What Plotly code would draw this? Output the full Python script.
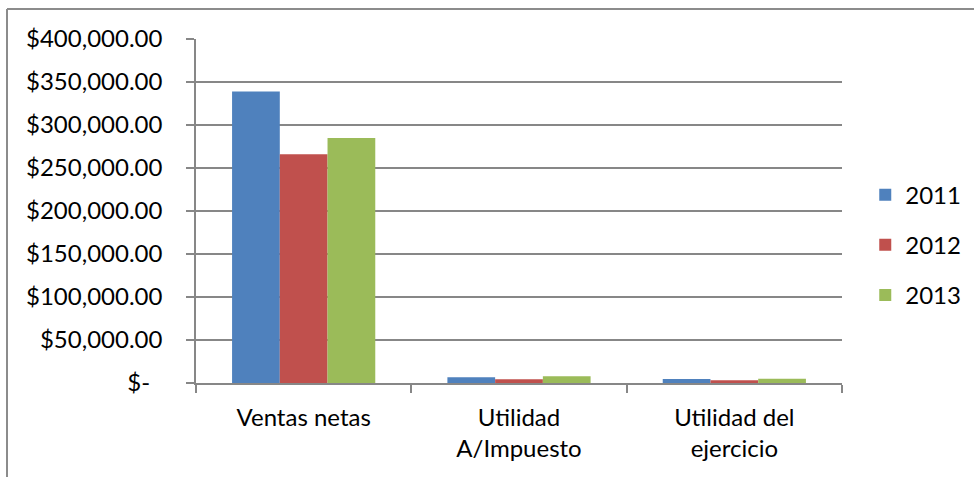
import plotly.graph_objects as go

categories = ["Ventas netas", "Utilidad<br>A/Impuesto", "Utilidad del<br>ejercicio"]
years = ["2011", "2012", "2013"]
values_2011 = [339000, 6600, 4700]
values_2012 = [266000, 4300, 3100]
values_2013 = [285000, 7800, 5000]
colors = ["#4F81BD", "#C0504D", "#9BBB59"]

tick_vals = [0, 50000, 100000, 150000, 200000, 250000, 300000, 350000, 400000]
tick_text = ["$-" + "\u00a0" * 2] + ["${:,.2f}".format(v) for v in tick_vals[1:]]

FONT = "Lato"
FSIZE = 24
GRID = "#878787"

fig = go.Figure()
for name, vals, col in zip(years, [values_2011, values_2012, values_2013], colors):
    fig.add_trace(go.Bar(
        x=categories, y=vals, name=name, marker_color=col,
        marker_line_width=0, legendgroup=name,
    ))

fig.update_layout(
    width=974, height=477,
    margin=dict(l=196, r=132, t=39, b=94, autoexpand=False),
    paper_bgcolor="white", plot_bgcolor="white",
    barmode="group", bargap=0.335, bargroupgap=0,
    font=dict(family=FONT, size=FSIZE, color="black"),
    legend=dict(
        x=1.036, xanchor="left", y=0.401, yanchor="middle",
        font=dict(family=FONT, size=FSIZE, color="black"),
        tracegroupgap=16, bgcolor="rgba(0,0,0,0)",
    ),
    showlegend=True,
)

fig.update_yaxes(
    range=[0, 400000], tickvals=tick_vals, ticktext=tick_text,
    showgrid=True, gridcolor=GRID, gridwidth=1.5,
    showline=True, linecolor=GRID, linewidth=1.5,
    ticks="outside", ticklen=8, tickcolor=GRID, tickwidth=1.5,
    ticklabelstandoff=19, zeroline=False, automargin=False,
)
fig.update_xaxes(
    showline=True, linecolor=GRID, linewidth=1.5,
    ticks="outside", ticklen=8, tickcolor=GRID, tickwidth=1.5,
    tickson="boundaries", showgrid=False, ticklabelstandoff=12,
    automargin=False,
)

# Outer frame: top and left edges
fig.add_shape(type="line", xref="paper", yref="paper",
              x0=(7 - 196) / 646, x1=(976 - 196) / 646,
              y0=(383 - 9) / 344, y1=(383 - 9) / 344,
              line=dict(color="#8C8C8C", width=2))
fig.add_shape(type="line", xref="paper", yref="paper",
              x0=(7 - 196) / 646, x1=(7 - 196) / 646,
              y0=(383 - 9) / 344, y1=(383 - 480) / 344,
              line=dict(color="#8C8C8C", width=2))

fig.write_html("out.html")
